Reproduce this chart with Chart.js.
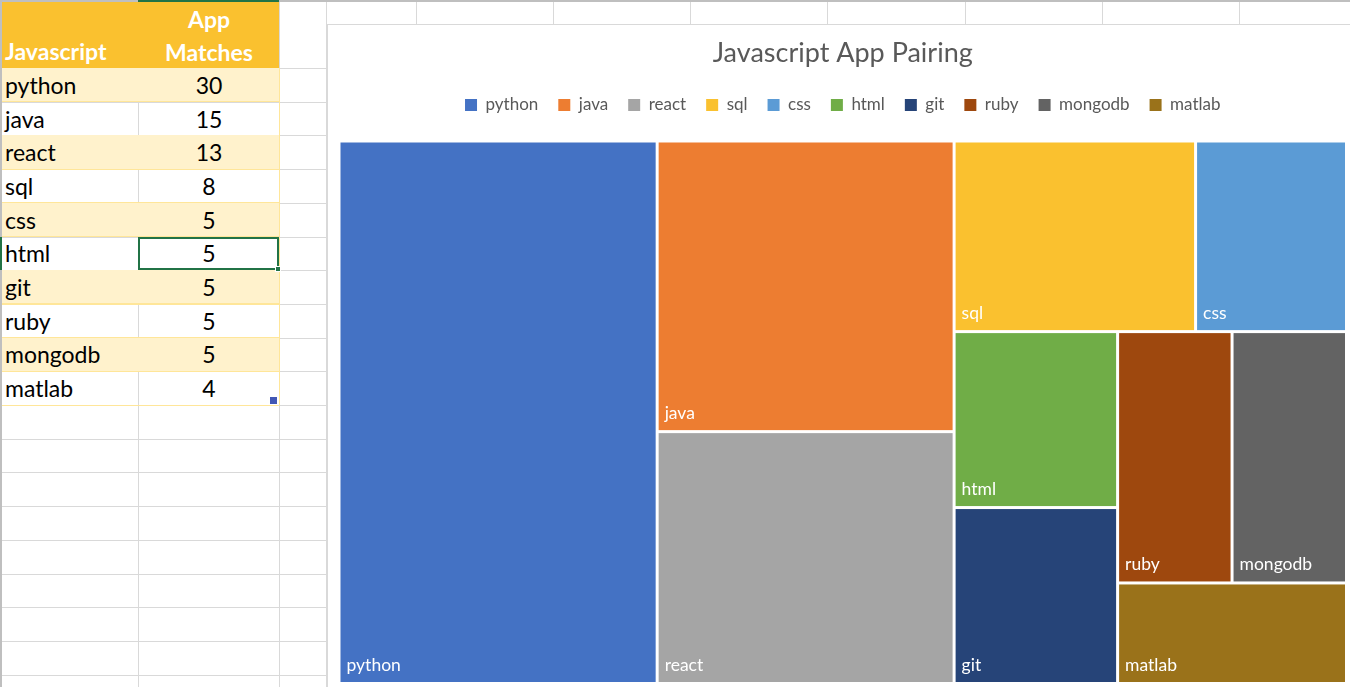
<!DOCTYPE html>
<html>
<head>
<meta charset="utf-8">
<script src="https://cdn.jsdelivr.net/npm/chart.js@4.4.1/dist/chart.umd.min.js"></script>
<style>
  html, body { margin:0; padding:0; background:#fff; }
  body { width:1350px; height:687px; overflow:hidden; position:relative; font-family:'Lato', 'Liberation Sans', sans-serif; }
  .ln { position:absolute; }
  .cell { position:absolute; font-size:23px; color:#000; line-height:1; white-space:nowrap; }
  #chartBox { position:absolute; left:327px; top:24px; width:1040px; height:680px; background:#fff; border:1px solid #D9D9D9; box-sizing:border-box; }
  #c { position:absolute; left:0px; top:0px; }
</style>
</head>
<body>
<div id="sheet"></div>
<div id="chartBox"><canvas id="c" width="1027" height="662"></canvas></div>
<script>
// ---- data ----
const headerCategory = 'Javascript';
const headerValueLines = ['App', 'Matches'];
const categories = ['python', 'java', 'react', 'sql', 'css', 'html', 'git', 'ruby', 'mongodb', 'matlab'];
const appMatches = [30, 15, 13, 8, 5, 5, 5, 5, 5, 4];
const chartTitle = 'Javascript App Pairing';

// ---- styles ----
const palette = ['#4472C4', '#ED7D31', '#A5A5A5', '#FAC12F', '#5B9BD5', '#70AD47', '#264478', '#9E480E', '#636363', '#9A721A'];
const headerFill = '#FAC12F';
const bandFill = '#FFF2CC';
const bandLine = '#FFE699';
const gridColor = '#D9D9D9';
const selectGreen = '#217346';

// ---- spreadsheet ----
const sheet = document.getElementById('sheet');
function box(l, t, w, h, bg, extra) {
  const d = document.createElement('div');
  d.className = 'ln';
  d.style.left = l + 'px'; d.style.top = t + 'px';
  d.style.width = w + 'px'; d.style.height = h + 'px';
  d.style.background = bg;
  if (extra) Object.assign(d.style, extra);
  sheet.appendChild(d);
  return d;
}
function text(str, l, cy, opts) {
  const d = document.createElement('div');
  d.className = 'cell';
  d.textContent = str;
  d.style.top = (cy - 12) + 'px';
  if (opts && opts.center !== undefined) {
    d.style.left = (opts.center - 70) + 'px';
    d.style.width = '140px';
    d.style.textAlign = 'center';
  } else {
    d.style.left = l + 'px';
  }
  if (opts && opts.bold) d.style.fontWeight = 'bold';
  if (opts && opts.color) d.style.color = opts.color;
  sheet.appendChild(d);
}
const colEdges = [1, 138, 279, 326, 416, 553, 690, 827, 965, 1102, 1239];
const headerBottom = 68, rowH = 33.7;
// grid lines
colEdges.forEach(x => box(x, 0, 1, 687, gridColor));
for (let i = 0; i < 19; i++) box(0, headerBottom + i * rowH, 1350, 1, gridColor);
box(0, 0, 1350, 2, '#BFBFBF');
box(0, 0, 2, 687, '#BFBFBF');
// header row
box(2, 2, 277, headerBottom - 2, headerFill);
text(headerCategory, 5, 52, {bold: true, color: '#fff'});
text(headerValueLines[0], 0, 20, {bold: true, color: '#fff', center: 209});
text(headerValueLines[1], 0, 53, {bold: true, color: '#fff', center: 209});
// data rows
categories.forEach((name, i) => {
  const top = headerBottom + i * rowH;
  if (i % 2 === 0) box(2, top, 277, rowH, bandFill);
  box(2, top + rowH - 0.5, 277, 1.2, bandLine);
  box(279, top, 1, rowH, bandLine);
  text(name, 5, top + rowH / 2 + 1, {});
  text(String(appMatches[i]), 0, top + rowH / 2 + 1, {center: 209});
});
// selection on html value
const selIdx = categories.indexOf('html');
const selTop = headerBottom + selIdx * rowH;
box(138, selTop, 141, rowH, 'transparent', {border: '2px solid ' + selectGreen, boxSizing: 'border-box'});
box(275, selTop + rowH - 4, 6, 6, selectGreen, {border: '1px solid #fff', boxSizing: 'border-box'});
box(0, selTop, 2, rowH, selectGreen);
box(138, 0, 141, 2, selectGreen);
// table resize handle
const lastBottom = headerBottom + categories.length * rowH;
box(270, lastBottom - 8, 7, 7, '#4157B5');

// ---- treemap layout (squarified, computed from the values) ----
const aspectTolerance = 1.25;
function worstRatio(row, side) {
  const s = row.reduce((a, b) => a + b, 0);
  const t = s / side;
  return Math.max(...row.map(a => Math.max((t * t) / a, a / (t * t))));
}
function squarify(values, W, H) {
  const total = values.reduce((a, b) => a + b, 0);
  const k = (W * H) / total;
  const areas = values.map(v => v * k);
  let x = 0, y = 0, w = W, h = H, i = 0;
  const out = [];
  while (i < areas.length) {
    const side = Math.min(w, h);
    let row = [areas[i]], cur = worstRatio(row, side), j = i + 1;
    while (j < areas.length) {
      const cand = row.concat(areas[j]);
      const wv = worstRatio(cand, side);
      if (wv > cur * aspectTolerance) break;
      row = cand; cur = wv; j++;
    }
    const t = row.reduce((a, b) => a + b, 0) / side;
    if (w >= h) {
      let yy = y;
      row.forEach(a => { const len = a / t; out.push({x0: x, x1: x + t, y0: yy, y1: yy + len}); yy += len; });
      x += t; w -= t;
    } else {
      let xx = x;
      row.forEach(a => { const len = a / t; out.push({x0: xx, x1: xx + len, y0: y, y1: y + t}); xx += len; });
      y += t; h -= t;
    }
    i = j;
  }
  return out.map(r => ({x0: r.x0 / W, x1: r.x1 / W, y0: r.y0 / H, y1: r.y1 / H}));
}

const treemapPlugin = {
  id: 'treemapCells',
  afterDatasetsDraw(chart) {
    const {ctx, chartArea, scales} = chart;
    const xs = scales.x, ys = scales.y;
    const cells = squarify(appMatches, chartArea.width / chartArea.height, 1);
    const gap = 1.5;
    ctx.save();
    cells.forEach((c, i) => {
      const l = xs.getPixelForValue(c.x0) + gap, r = xs.getPixelForValue(c.x1) - gap;
      const t = ys.getPixelForValue(c.y0) + gap, b = ys.getPixelForValue(c.y1) - gap;
      ctx.fillStyle = palette[i];
      ctx.fillRect(l, t, r - l, b - t);
      ctx.fillStyle = '#ffffff';
      ctx.font = '17.5px Lato';
      ctx.textAlign = 'left';
      ctx.textBaseline = 'middle';
      ctx.fillText(categories[i], l + 6, b - 17);
    });
    ctx.restore();
  }
};

const legendSpacing = {
  id: 'legendSpacing',
  beforeInit(chart) {
    const orig = chart.legend.fit;
    chart.legend.fit = function () { orig.call(this); this.height += 17.5; };
  }
};

new Chart(document.getElementById('c'), {
  type: 'scatter',
  data: {
    datasets: categories.map((name, i) => ({
      label: name,
      data: [],
      backgroundColor: palette[i],
      borderColor: palette[i],
      borderWidth: 0
    }))
  },
  options: {
    responsive: false,
    animation: false,
    events: [],
    layout: { padding: { left: 11, right: 8.5, top: 0, bottom: 3.5 } },
    scales: {
      x: { type: 'linear', min: 0, max: 1, display: false },
      y: { type: 'linear', min: 0, max: 1, reverse: true, display: false }
    },
    plugins: {
      title: {
        display: true,
        text: chartTitle,
        color: '#595959',
        font: { family: 'Lato', size: 27, weight: 'normal' },
        padding: { top: 11.8, bottom: 7.3 }
      },
      legend: {
        display: true,
        position: 'top',
        labels: {
          color: '#595959',
          font: { family: 'Lato', size: 17 },
          boxWidth: 12,
          boxHeight: 12,
          padding: 20
        }
      },
      tooltip: { enabled: false }
    }
  },
  plugins: [legendSpacing, treemapPlugin]
});
</script>
</body>
</html>
